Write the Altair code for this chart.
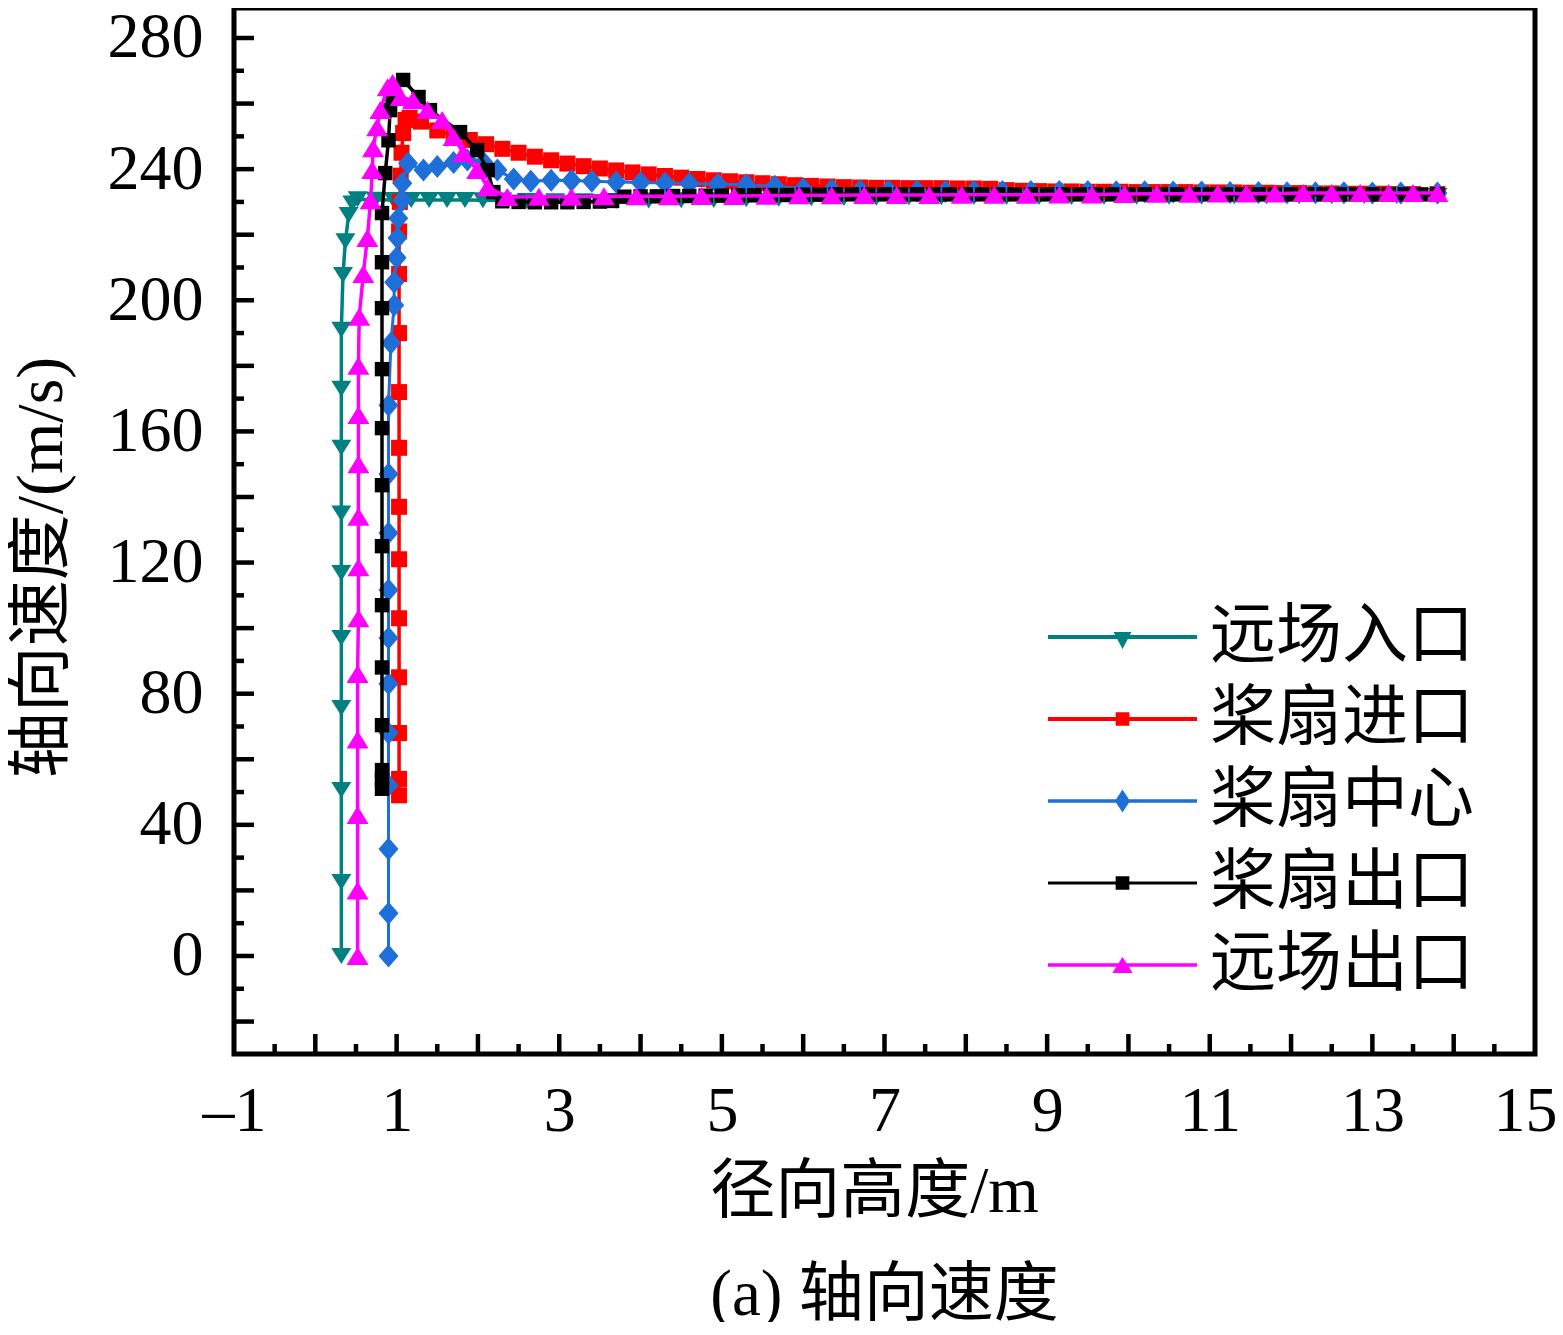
import altair as alt
import pandas as pd

# ---------------- data ----------------
SERIES = ["远场入口", "桨扇进口", "桨扇中心", "桨扇出口", "远场出口"]
COLORS = ["#008080", "#ff0000", "#1f6fd9", "#000000", "#ff00ff"]
LINE_W = [3.5, 3.5, 3.0, 3.5, 3.5]

X_TICK_LABELS = [-1, 1, 3, 5, 7, 9, 11, 13, 15]
Y_TICK_LABELS = [0, 40, 80, 120, 160, 200, 240, 280]
X_MAJOR_TICKS = list(range(0, 15))
X_MINOR_TICKS = [v + 0.5 for v in range(-1, 15)]
Y_MAJOR_TICKS = list(range(-20, 281, 20))
Y_MINOR_TICKS = list(range(-10, 281, 20))

# 远场入口
x_inlet = [0.32, 0.32, 0.32, 0.32, 0.32, 0.32, 0.32, 0.32, 0.32, 0.32,
           0.34, 0.37, 0.41, 0.455, 0.52,
           0.74, 0.96, 1.18, 1.4, 1.62, 1.84, 2.06, 2.3, 2.6, 2.95, 3.3, 3.7,
           4.1, 4.5, 4.9, 5.3, 5.7, 6.1, 6.5, 6.9, 7.3, 7.7, 8.1, 8.5, 8.9,
           9.3, 9.7, 10.1, 10.5, 10.9, 11.3, 11.7, 12.1, 12.5, 12.9, 13.3, 13.8]
y_inlet = [0.0, 22.6, 50.6, 75.6, 97.0, 116.8, 135.0, 155.0, 173.0, 191.0,
           207.7, 218.0, 226.0, 229.5, 230.8,
           230.7, 230.6, 230.6, 230.6, 230.6, 230.6, 230.5, 230.4, 230.3, 230.2,
           230.2, 230.3, 230.4, 230.5, 230.6, 230.8, 231.0, 231.1, 231.2, 231.3,
           231.4, 231.4, 231.5, 231.5, 231.5, 231.5, 231.6, 231.6, 231.6, 231.6,
           231.7, 231.7, 231.7, 231.7, 231.8, 231.8, 231.8]

# 桨扇进口
x_fan_in = [1.03, 1.03, 1.03, 1.03, 1.03, 1.03, 1.03, 1.03, 1.03, 1.03, 1.03, 1.03,
            1.04, 1.05, 1.06, 1.08, 1.11, 1.16,
            1.3, 1.5, 1.7, 1.9, 2.1, 2.3, 2.5, 2.7, 2.9, 3.1, 3.3, 3.5, 3.7, 3.9,
            4.1, 4.3, 4.5, 4.7, 4.9, 5.1, 5.3, 5.5, 5.7, 5.9, 6.1, 6.3, 6.5, 6.7,
            6.9, 7.1, 7.3, 7.5, 7.7, 7.9, 8.1, 8.3, 8.5, 8.7, 8.9, 9.1, 9.3, 9.5,
            9.7, 9.9, 10.1, 10.3, 10.5, 10.7, 10.9, 11.1, 11.3, 11.5, 11.7, 11.9,
            12.1, 12.3, 12.5, 12.7, 12.9, 13.1, 13.3, 13.5, 13.8]
y_fan_in = [49.0, 54.0, 68.0, 85.0, 103.0, 121.0, 137.0, 155.0, 172.0, 190.0, 208.0, 221.0,
            230.0, 238.0, 245.0, 251.0, 255.0, 255.6,
            254.5, 251.8, 250.2, 248.9, 247.6, 246.2, 245.0, 243.8, 242.7, 241.7,
            240.9, 240.2, 239.6, 239.0, 238.4, 237.9, 237.4, 237.0, 236.6, 236.3,
            236.0, 235.7, 235.4, 235.1, 234.9, 234.7, 234.5, 234.4, 234.3, 234.3,
            234.2, 234.2, 234.2, 234.1, 234.1, 234.0, 233.6, 233.4, 233.3, 233.2,
            233.2, 233.1, 233.1, 233.1, 233.0, 233.0, 233.0, 233.0, 232.9, 232.9,
            232.9, 232.8, 232.8, 232.7, 232.7, 232.6, 232.6, 232.5, 232.5, 232.5,
            232.4, 232.4, 232.4]

# 桨扇中心
x_fan_mid = [0.9, 0.9, 0.9, 0.9, 0.9, 0.9, 0.9, 0.9, 0.9, 0.9, 0.9,
             0.93, 0.97, 0.97, 1.0, 1.01, 1.02, 1.07, 1.07, 1.14,
             1.33, 1.5, 1.7, 1.87, 2.07, 2.24, 2.44, 2.65, 2.9, 3.15, 3.4, 3.7,
             4.0, 4.3, 4.6, 4.95, 5.3, 5.65, 6.0, 6.35, 6.7, 7.05, 7.4, 7.75,
             8.1, 8.45, 8.8, 9.15, 9.5, 9.85, 10.2, 10.55, 10.9, 11.25, 11.6,
             11.95, 12.3, 12.65, 13.0, 13.35, 13.8]
y_fan_mid = [0.0, 13.0, 32.6, 52.0, 68.0, 83.0, 97.0, 111.6, 129.0, 147.0, 168.0,
             187.0, 198.5, 205.5, 213.0, 219.0, 225.0, 230.5, 235.7, 241.8,
             239.7, 240.8, 242.0, 242.8, 242.0, 239.7, 237.0, 236.3, 236.6, 236.5,
             236.3, 236.1, 235.9, 235.8, 235.6, 235.4, 235.2, 234.8, 234.0, 233.6,
             233.4, 233.3, 233.3, 233.2, 233.2, 233.2, 233.2, 233.2, 233.2, 233.1,
             233.1, 233.0, 233.0, 232.9, 232.9, 232.8, 232.8, 232.8, 232.7, 232.7,
             232.7]

# 桨扇出口
x_fan_out = [0.82, 0.82, 0.82, 0.82, 0.82, 0.82, 0.82, 0.82, 0.82, 0.82, 0.82, 0.82, 0.82,
             0.86, 0.9, 0.92, 0.95, 1.08, 1.27, 1.41, 1.78, 1.99, 2.12, 2.19, 2.3,
             2.5, 2.7, 2.9, 3.1, 3.3, 3.5, 3.65, 3.8, 4.0, 4.2, 4.4, 4.6, 4.8, 5.0,
             5.2, 5.4, 5.6, 5.8, 6.0, 6.2, 6.4, 6.6, 6.8, 7.0, 7.2, 7.4, 7.6, 7.8,
             8.0, 8.2, 8.4, 8.6, 8.8, 9.0, 9.2, 9.4, 9.6, 9.8, 10.0, 10.2, 10.4,
             10.6, 10.8, 11.0, 11.2, 11.4, 11.6, 11.8, 12.0, 12.2, 12.4, 12.6,
             12.8, 13.0, 13.2, 13.4, 13.6, 13.8]
y_fan_out = [51.0, 53.7, 56.7, 70.4, 88.0, 107.0, 125.0, 143.6, 161.0, 179.0, 197.6, 211.6, 226.6,
             238.8, 248.8, 258.0, 261.7, 267.2, 262.0, 258.0, 251.3, 245.8, 239.7, 233.0, 230.2,
             230.0, 229.9, 229.9, 229.9, 230.0, 230.1, 230.3, 231.6, 231.7, 231.7,
             231.8, 231.8, 231.9, 231.9, 232.0, 232.0, 232.1, 232.1, 232.2, 232.2,
             232.3, 232.3, 232.3, 232.3, 232.3, 232.3, 232.3, 232.3, 232.3, 232.3,
             232.3, 232.3, 232.3, 232.3, 232.3, 232.3, 232.3, 232.3, 232.3, 232.3,
             232.3, 232.3, 232.3, 232.3, 232.3, 232.3, 232.3, 232.3, 232.3, 232.3,
             232.3, 232.3, 232.3, 232.3, 232.3, 232.3, 232.3, 232.3]

# 远场出口
x_far_out = [0.52, 0.52, 0.52, 0.52, 0.52, 0.53, 0.53, 0.53, 0.53, 0.53, 0.53,
             0.54, 0.59, 0.64, 0.68, 0.7, 0.71, 0.76, 0.8, 0.89, 0.95, 1.05, 1.2,
             1.38, 1.56, 1.7, 1.82, 1.99, 2.12, 2.36,
             2.75, 3.15, 3.55, 3.95, 4.35, 4.75, 5.15, 5.55, 5.95, 6.35, 6.75,
             7.15, 7.55, 7.95, 8.35, 8.75, 9.15, 9.55, 9.95, 10.35, 10.75, 11.1,
             11.45, 11.8, 12.15, 12.5, 12.85, 13.2, 13.5, 13.8]
y_far_out = [0.0, 20.0, 43.0, 66.0, 86.0, 103.0, 118.6, 134.0, 150.0, 165.0, 180.0,
             195.0, 208.0, 219.0, 230.5, 239.7, 246.4, 252.8, 258.0, 265.0, 266.3,
             262.0, 261.0, 258.0, 255.0, 249.8, 244.9, 239.7, 234.5, 231.5,
             231.6, 231.6, 231.7, 231.7, 231.7, 231.8, 231.8, 231.9, 232.0, 232.0,
             232.1, 232.1, 232.1, 232.2, 232.2, 232.2, 232.3, 232.3, 232.4, 232.5,
             232.5, 232.6, 232.6, 232.6, 232.7, 232.7, 232.7, 232.7, 232.7, 232.7]

XS = [x_inlet, x_fan_in, x_fan_mid, x_fan_out, x_far_out]
YS = [y_inlet, y_fan_in, y_fan_mid, y_fan_out, y_far_out]

# marker shapes (plot) and legend symbols (line + marker)
MARKERS = [
    "M-1,-0.8L1,-0.8L0,0.8Z",
    "M-0.8,-0.8L0.8,-0.8L0.8,0.8L-0.8,0.8Z",
    "M-1,0L0,-1.15L1,0L0,1.15Z",
    "M-0.72,-0.72L0.72,-0.72L0.72,0.72L-0.72,0.72Z",
    "M0,-0.9L1.1,0.9L-1.1,0.9Z",
]


def line_rect(t):
    return f"M-2.07,{-t}L2.07,{-t}L2.07,{t}L-2.07,{t}Z"


LEGEND_SYMBOLS = [
    line_rect(0.055) + "M-0.25,-0.14L0.25,-0.14L0,0.33Z",
    line_rect(0.055) + "M-0.19,-0.19L0.19,-0.19L0.19,0.19L-0.19,0.19Z",
    line_rect(0.05) + "M-0.21,0L0,-0.32L0.21,0L0,0.32Z",
    line_rect(0.042) + "M-0.19,-0.19L0.19,-0.19L0.19,0.19L-0.19,0.19Z",
    line_rect(0.05) + "M0,-0.22L0.28,0.22L-0.28,0.22Z",
]

rows = []
for name, xs, ys in zip(SERIES, XS, YS):
    for i, (a, b) in enumerate(zip(xs, ys)):
        rows.append({"series": name, "x": a, "y": b, "idx": i})
df = pd.DataFrame(rows)

# ---------------- chart ----------------
W, H = 1301, 1046
FONT = "Liberation Serif, Noto Sans CJK SC"

xscale = alt.Scale(domain=[-1, 15], nice=False, zero=False)
yscale = alt.Scale(domain=[-29.9, 289.15], nice=False, zero=False)

xaxis = alt.Axis(
    values=X_TICK_LABELS,
    labelExpr="datum.value < 0 ? '\u2013' + abs(datum.value) : '' + datum.value",
    domain=False, ticks=False, grid=False,
    labelFont=FONT, labelFontSize=64, labelColor="black",
    labelOffset={"expr": "datum.value == 15 ? -10 : 0"},
    labelPadding=25, labelFlush=False, labelOverlap=False, labelBaseline="top",
    title="径向高度/m", titleFont=FONT, titleFontSize=65, titleFontWeight="normal",
    titleColor="black", titleX=640, titleY=137, titleBaseline="middle", titleAlign="center",
)
yaxis = alt.Axis(
    values=Y_TICK_LABELS,
    domain=False, ticks=False, grid=False,
    labelFont=FONT, labelFontSize=64, labelColor="black",
    labelPadding=31, labelFlush=False, labelOverlap=False, labelBaseline="middle",
    title="轴向速度/(m/s)", titleFont=FONT, titleFontSize=66, titleFontWeight="normal",
    titleColor="black", titleX=-193, titleY=559, titleAngle=270,
    titleBaseline="middle", titleAlign="center",
)

legend = alt.Legend(
    orient="none", legendX=852.5, legendY=593, padding=0, rowPadding=13,
    symbolSize=5184, symbolStrokeWidth=0, symbolOffset=0, symbolOpacity=1,
    labelOffset=51.5,
    labelFont=FONT, labelFontSize=66, labelColor="black", labelLimit=500,
)

X = alt.X("x:Q", scale=xscale, axis=xaxis)
Y = alt.Y("y:Q", scale=yscale, axis=yaxis)
color_scale = alt.Scale(domain=SERIES, range=COLORS)
color = alt.Color("series:N", scale=color_scale, legend=None)
shape = alt.Shape("series:N", scale=alt.Scale(domain=SERIES, range=MARKERS), legend=None)

tick_w = 4.5
yt_major = alt.Chart(pd.DataFrame({"v": Y_MAJOR_TICKS})).mark_rule(color="black", strokeWidth=tick_w).encode(
    y=alt.Y("v:Q", scale=yscale, axis=yaxis), x=alt.value(0), x2=alt.value(20))
yt_minor = alt.Chart(pd.DataFrame({"v": Y_MINOR_TICKS})).mark_rule(color="black", strokeWidth=tick_w).encode(
    y=alt.Y("v:Q", scale=yscale, axis=yaxis), x=alt.value(0), x2=alt.value(10))
xt_major = alt.Chart(pd.DataFrame({"v": X_MAJOR_TICKS})).mark_rule(color="black", strokeWidth=tick_w).encode(
    x=alt.X("v:Q", scale=xscale, axis=xaxis), y=alt.value(H), y2=alt.value(H - 20))
xt_minor = alt.Chart(pd.DataFrame({"v": X_MINOR_TICKS})).mark_rule(color="black", strokeWidth=tick_w).encode(
    x=alt.X("v:Q", scale=xscale, axis=xaxis), y=alt.value(H), y2=alt.value(H - 10))

layers = [yt_major, yt_minor, xt_major, xt_minor]
for i, name in enumerate(SERIES):
    base = alt.Chart(df).transform_filter(alt.datum.series == name)
    layers.append(base.mark_line(strokeWidth=LINE_W[i]).encode(x=X, y=Y, color=color, order="idx:Q"))
    layers.append(base.mark_point(filled=True, size=400, opacity=1).encode(x=X, y=Y, color=color, shape=shape))

# invisible proxy layer that carries the legend (line + marker symbols)
legend_proxy = alt.Chart(df).transform_filter(alt.datum.idx == 0).mark_point(
    filled=True, size=5184, opacity=0).encode(
    x=X, y=Y,
    color=alt.Color("series:N", scale=color_scale, legend=legend, title=None),
    shape=alt.Shape("series:N", scale=alt.Scale(domain=SERIES, range=LEGEND_SYMBOLS), legend=legend, title=None),
)
layers.append(legend_proxy)

chart = alt.layer(*layers).resolve_scale(color="independent", shape="independent").properties(
    width=W, height=H,
    background="white",
    autosize=alt.AutoSizeParams(type="none"),
    padding={"left": 226, "top": 0, "right": 20, "bottom": 268},
    title=alt.TitleParams("(a) 轴向速度", orient="bottom", anchor="middle", fontSize=65,
                          font=FONT, fontWeight="normal", color="black", offset=40),
).configure_view(stroke="black", strokeWidth=5)

chart.save("out.html", embed_options={"renderer": "svg", "actions": False})
